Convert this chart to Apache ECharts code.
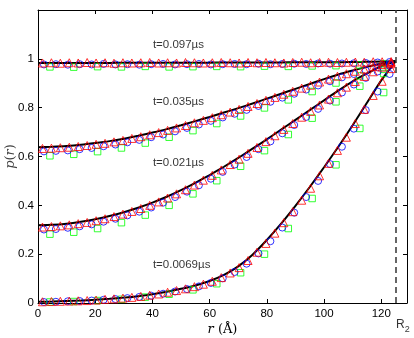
<!DOCTYPE html>
<html>
<head>
<meta charset="utf-8">
<script src="https://cdn.jsdelivr.net/npm/echarts@6/dist/echarts.min.js"></script>
<style>
  html,body{margin:0;padding:0;background:#fff;}
  #chart{width:414px;height:338px;}
</style>
</head>
<body>
<div id="chart"></div>
<script>
// 理论曲线（黑线）的 r 取值
const rLine = [0,5,10,15,20,25,30,35,40,45,50,55,60,65,70,75,80,85,90,95,100,105,110,115,120,125]
const lineT0097 = [.983,.983,.983,.983,.983,.983,.984,.984,.984,.984,.984,.984,.984,.985,.985,.985,.985,.985,.986,.986,.986,.986,.987,.988,.989,.990]
const lineT0035 = [.638,.640,.643,.648,.655,.663,.673,.685,.698,.712,.728,.745,.762,.780,.798,.817,.837,.857,.877,.897,.917,.936,.952,.967,.980,.990]
const lineT0021 = [.318,.320,.325,.333,.343,.356,.372,.390,.411,.435,.462,.492,.524,.558,.594,.632,.670,.710,.750,.790,.830,.870,.908,.940,.970,.990]
const lineT00069 = [.005,.006,.008,.010,.013,.017,.022,.028,.036,.046,.058,.072,.090,.115,.150,.198,.258,.325,.398,.475,.556,.640,.728,.820,.912,.990]

// 红色三角
const rTri = [1.56,4.69,7.81,10.94,14.06,17.19,20.31,23.44,26.56,29.69,32.81,35.94,39.06,42.19,45.31,48.44,51.56,54.69,57.81,60.94,64.06,67.19,70.31,73.44,76.56,79.69,82.81,85.94,89.06,92.19,95.31,98.44,101.56,104.69,107.81,110.94,114.06,117.19,120.31,123.44]
const triT0097 = [.983,.984,.982,.984,.983,.985,.983,.984,.982,.984,.983,.984,.985,.983,.984,.983,.985,.984,.983,.984,.985,.984,.983,.985,.984,.985,.984,.983,.985,.986,.984,.985,.986,.985,.986,.987,.986,.988,.988,.989]
const triT0035 = [.633,.634,.636,.638,.641,.645,.650,.654,.660,.666,.674,.681,.689,.698,.707,.717,.727,.738,.748,.759,.771,.782,.793,.805,.817,.830,.842,.855,.867,.880,.892,.905,.917,.929,.939,.949,.958,.968,.977,.985]
const triT0021 = [.311,.313,.316,.320,.325,.330,.337,.345,.354,.364,.375,.387,.400,.414,.430,.447,.464,.483,.503,.523,.545,.567,.589,.613,.637,.661,.685,.711,.735,.761,.785,.811,.835,.861,.884,.907,.928,.947,.966,.980]
const triT00069 = [.005,.006,.007,.008,.009,.010,.012,.015,.017,.020,.023,.027,.032,.037,.044,.051,.058,.067,.077,.089,.104,.123,.145,.174,.208,.244,.286,.329,.374,.421,.470,.521,.572,.625,.679,.735,.793,.850,.908,.960]

// 蓝色圆圈
const rCirc = [2.08,6.25,10.42,14.58,18.75,22.92,27.08,31.25,35.42,39.58,43.75,47.92,52.08,56.25,60.42,64.58,68.75,72.92,77.08,81.25,85.42,89.58,93.75,97.92,102.08,106.25,110.42,114.58,118.75,122.92]
const circT0097 = [.977,.978,.976,.978,.977,.979,.977,.978,.976,.978,.979,.977,.978,.979,.977,.978,.979,.978,.980,.978,.979,.980,.979,.981,.980,.981,.982,.983,.985,.987]
const circT0035 = [.621,.623,.625,.630,.635,.642,.649,.658,.668,.679,.690,.703,.717,.731,.746,.760,.775,.791,.807,.824,.841,.857,.874,.891,.908,.924,.938,.952,.965,.978]
const circT0021 = [.301,.303,.308,.314,.322,.333,.345,.359,.374,.391,.411,.434,.456,.482,.509,.537,.567,.598,.630,.662,.695,.729,.762,.795,.829,.862,.895,.922,.948,.972]
const circT00069 = [.004,.005,.007,.008,.010,.013,.016,.020,.025,.030,.038,.047,.057,.068,.082,.101,.127,.161,.203,.253,.309,.370,.434,.500,.569,.640,.714,.790,.866,.938]

// 绿色方块
const rSq = [4.17,12.5,20.83,29.17,37.5,45.83,54.17,62.5,70.83,79.17,87.5,95.83,104.17,112.5,120.83]
const sqT0097 = [.967,.966,.968,.967,.969,.967,.968,.969,.968,.970,.969,.971,.972,.975,.980]
const sqT0035 = [.603,.609,.620,.635,.655,.679,.706,.735,.766,.799,.832,.866,.901,.930,.957]
const sqT0021 = [.282,.290,.305,.329,.360,.400,.447,.501,.560,.624,.690,.757,.824,.888,.940]
const sqT00069 = [.004,.006,.010,.015,.024,.036,.054,.079,.124,.200,.305,.428,.566,.715,.862]

// 标注文字及其所在的数据坐标
const noteText = ['t=0.097µs','t=0.035µs','t=0.021µs','t=0.0069µs']
const noteR = [40,40,40,40]
const noteP = [1.057,.824,.576,.155]
const R2 = 125

const zip = (xs, ys) => xs.map((x, i) => [x, ys[i]])

const chart = echarts.init(document.getElementById('chart'))

const axisCommon = {
  type: 'value',
  axisLine: { onZero: false, lineStyle: { color: '#000', width: 1 } },
  axisTick: { inside: true, length: 4, lineStyle: { color: '#000' } },
  splitLine: { show: false }
}

const lineSeries = (data) => ({
  type: 'line', data: zip(rLine, data), symbol: 'none', smooth: 0.2,
  lineStyle: { color: '#000', width: 2 }, z: 2, silent: true
})
const markSeries = (xs, ys, symbol, size, color) => ({
  type: 'scatter', data: zip(xs, ys), symbol: symbol, symbolSize: size,
  itemStyle: { color: 'rgba(0,0,0,0)', borderColor: color, borderWidth: 1 }, z: 3
})

chart.setOption({
  animation: false,
  backgroundColor: '#fff',
  grid: { left: 38, right: 7, top: 10, bottom: 35, containLabel: false, outerBoundsMode: 'none' },
  xAxis: [
    Object.assign({}, axisCommon, {
      min: 0, max: 129, interval: 20,
      axisLabel: { color: '#000', fontSize: 11.5, fontFamily: 'Liberation Sans', margin: 5, showMaxLabel: false },
      name: '{i|r} (Å)', nameLocation: 'middle', nameGap: 20, nameMoveOverlap: false,
      nameTextStyle: { color: '#000', fontSize: 13, fontFamily: 'DejaVu Serif',
        rich: { i: { fontStyle: 'italic', fontSize: 13, fontFamily: 'DejaVu Serif' } } }
    }),
    Object.assign({}, axisCommon, {
      position: 'top', min: 0, max: 129, interval: 20, axisLabel: { show: false }
    })
  ],
  yAxis: [
    Object.assign({}, axisCommon, {
      min: 0, max: 1.2, interval: 0.2,
      axisLabel: { color: '#000', fontSize: 11.5, fontFamily: 'Liberation Sans', margin: 4,
        formatter: v => v > 1.1 ? '' : String(+v.toFixed(1)) },
      name: '{i|p}({i|r})', nameLocation: 'middle', nameGap: 21, nameMoveOverlap: false,
      nameTextStyle: { color: '#444', fontSize: 13, fontFamily: 'DejaVu Serif',
        rich: { i: { fontStyle: 'italic', fontSize: 13, fontFamily: 'DejaVu Serif', color: '#444' } } }
    }),
    Object.assign({}, axisCommon, {
      position: 'right', min: 0, max: 1.2, interval: 0.2, axisLabel: { show: false }
    })
  ],
  series: [
    Object.assign(lineSeries(lineT0097), {
      markLine: {
        symbol: 'none', silent: true, label: { show: false },
        lineStyle: { type: [6, 4], color: '#333', width: 1.5 },
        data: [{ xAxis: R2 }]
      }
    }),
    lineSeries(lineT0035),
    lineSeries(lineT0021),
    lineSeries(lineT00069),
    markSeries(rSq, sqT0097, 'rect', 6.5, '#00ff00'),
    markSeries(rSq, sqT0035, 'rect', 6.5, '#00ff00'),
    markSeries(rSq, sqT0021, 'rect', 6.5, '#00ff00'),
    markSeries(rSq, sqT00069, 'rect', 6.5, '#00ff00'),
    markSeries(rCirc, circT0097, 'circle', 7, '#0000ff'),
    markSeries(rCirc, circT0035, 'circle', 7, '#0000ff'),
    markSeries(rCirc, circT0021, 'circle', 7, '#0000ff'),
    markSeries(rCirc, circT00069, 'circle', 7, '#0000ff'),
    markSeries(rTri, triT0097, 'triangle', 8, '#ff0000'),
    markSeries(rTri, triT0035, 'triangle', 8, '#ff0000'),
    markSeries(rTri, triT0021, 'triangle', 8, '#ff0000'),
    markSeries(rTri, triT00069, 'triangle', 8, '#ff0000'),
    {
      // 曲线对应的时刻标注
      type: 'scatter', symbolSize: 1, itemStyle: { color: 'rgba(0,0,0,0)' }, silent: true, z: 5,
      data: noteText.map((t, i) => ({ name: t, value: [noteR[i], noteP[i]] })),
      label: { show: true, position: 'right', distance: 0, formatter: p => p.name,
        color: '#000', fontSize: 11.5, fontFamily: 'Liberation Sans' }
    },
    {
      // 横轴下方的 R2
      type: 'scatter', symbolSize: 1, itemStyle: { color: 'rgba(0,0,0,0)' }, silent: true, clip: false,
      data: [{ name: 'R2', value: [R2, -0.09] }],
      label: { show: true, position: 'right', distance: 0, formatter: '{r|R}{s|2}',
        rich: {
          r: { fontSize: 12, color: '#000', fontFamily: 'Liberation Sans' },
          s: { fontSize: 9, color: '#000', fontFamily: 'Liberation Sans', padding: [9, 0, 0, 0] }
        } }
    }
  ]
})
</script>
</body>
</html>
